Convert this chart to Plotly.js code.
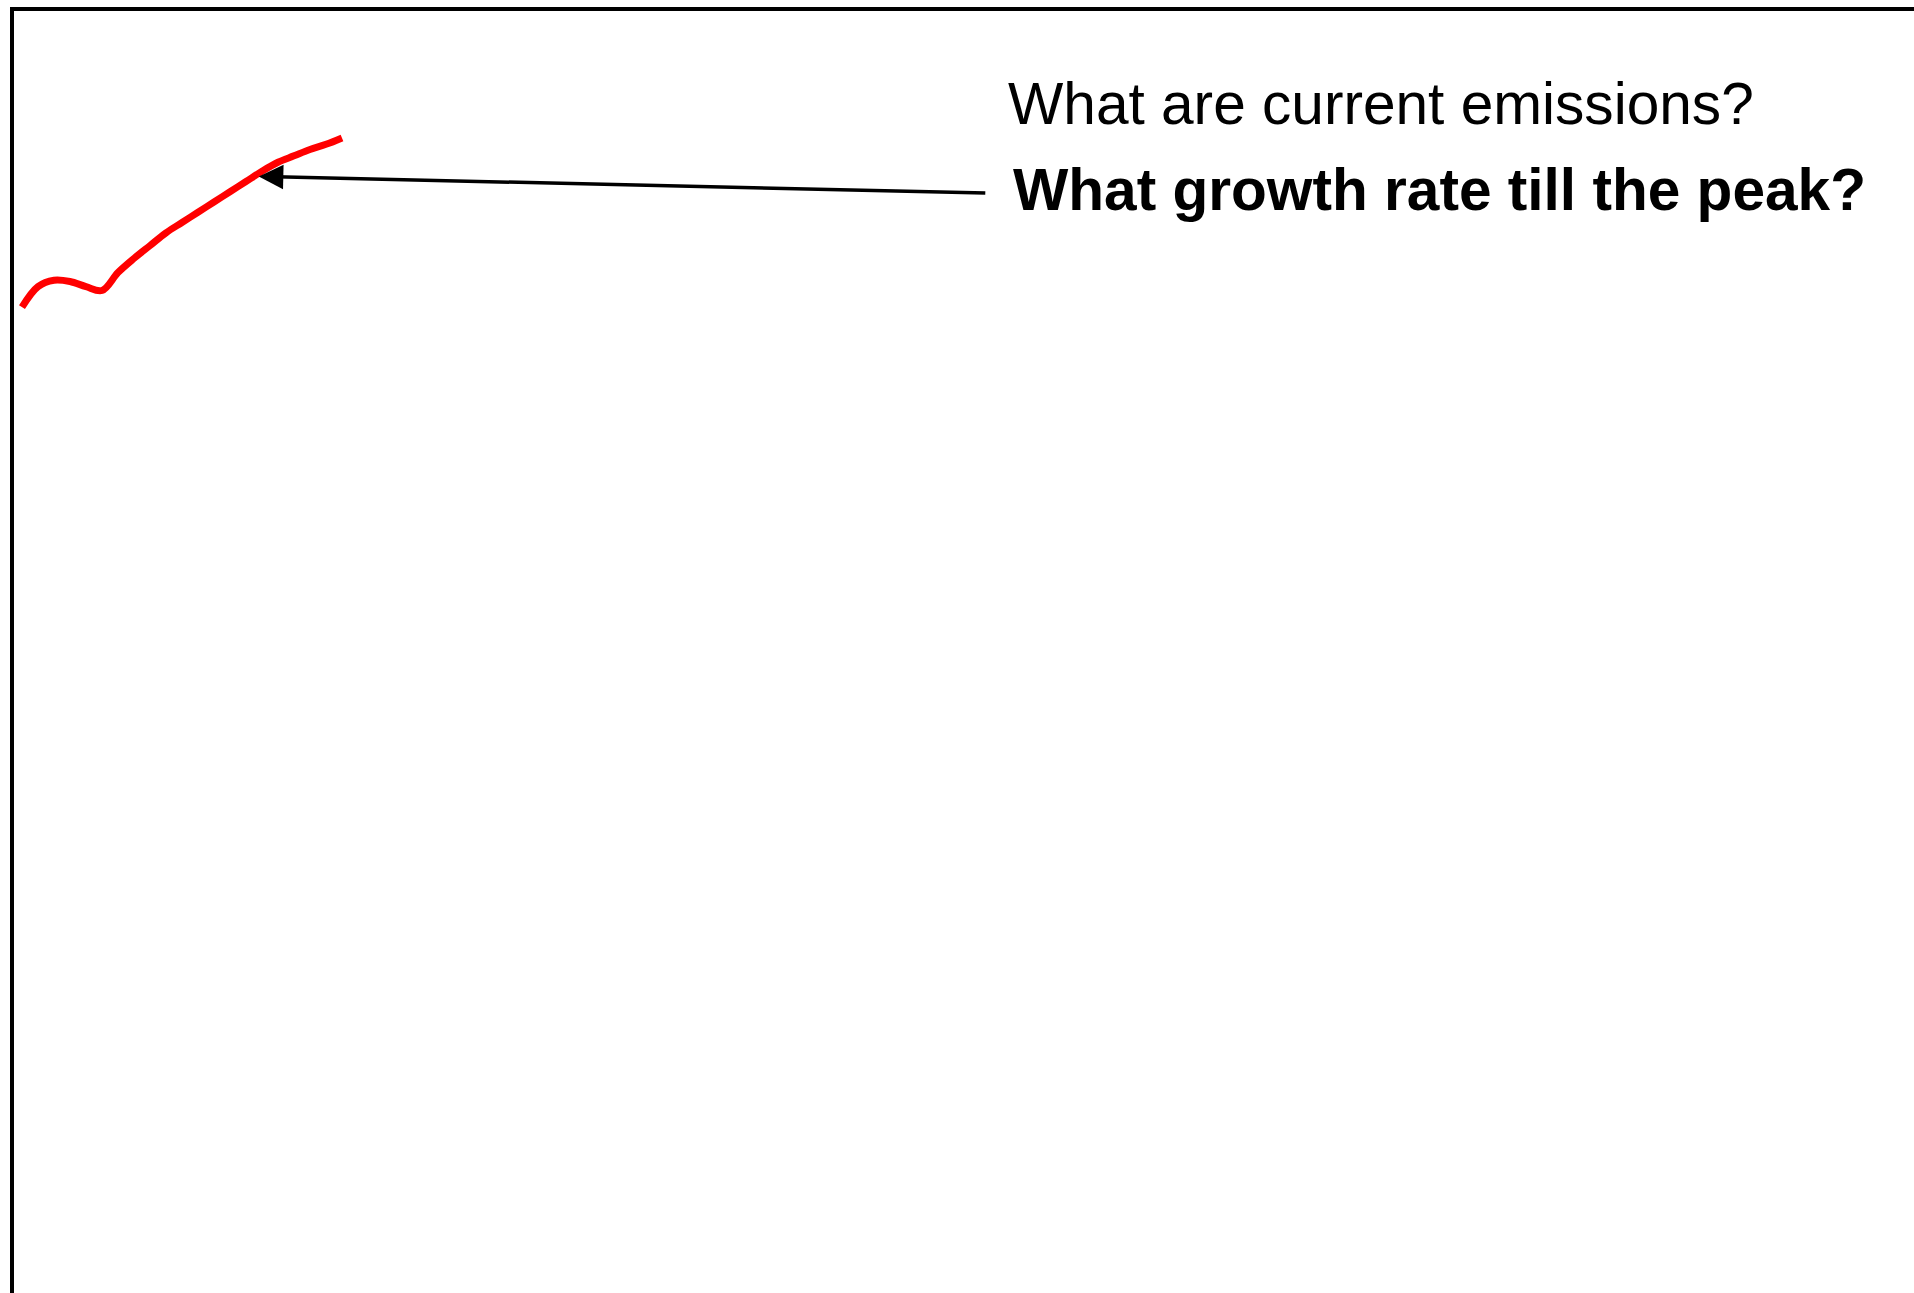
<!DOCTYPE html>
<html>
<head>
<meta charset="utf-8">
<script src="https://cdn.plot.ly/plotly-3.0.1.min.js"></script>
<style>html,body{margin:0;padding:0;background:#fff;}#chart{width:1914px;height:1293px;}</style>
</head>
<body>
<div id="chart"></div>
<script>
// Historical emissions sketch (indexed values)
const years = [1990,1991,1992,1993,1994,1995,1996,1997,1998,1999,2000,2001,2002,2003,2004,2005,2006,2007,2008,2009,2010];
const emissions = [7.69,7.85,7.90,7.89,7.85,7.82,7.96,8.07,8.17,8.27,8.35,8.43,8.51,8.59,8.67,8.75,8.82,8.87,8.92,8.96,9.01];
const xRange = [1989.5, 2108.25];
const yRange = [0, 10];
const question1 = "What are current emissions?";
const question2 = "What growth rate till the peak?";
const arrowHead = {year: 2004.8, value: 8.71};
const arrowTail = {year: 2050.3, value: 8.58};

const trace = {
  x: years, y: emissions, type: 'scatter', mode: 'lines',
  line: {color: '#ff0000', width: 7, shape: 'spline', smoothing: 1.0},
  hoverinfo: 'skip'
};

const layout = {
  width: 1914, height: 1293,
  margin: {l: 14, r: 0, t: 11, b: 0, pad: 0},
  paper_bgcolor: '#ffffff', plot_bgcolor: '#ffffff',
  showlegend: false,
  xaxis: {range: xRange, side: 'top', showline: true, linecolor: '#000', linewidth: 4.5,
          showgrid: false, zeroline: false, showticklabels: false, ticks: ''},
  yaxis: {range: yRange, showline: true, linecolor: '#000', linewidth: 4.5,
          showgrid: false, zeroline: false, showticklabels: false, ticks: ''},
  annotations: [
    {x: arrowHead.year, y: arrowHead.value, xref: 'x', yref: 'y',
     ax: arrowTail.year, ay: arrowTail.value, axref: 'x', ayref: 'y',
     text: '', showarrow: true, arrowhead: 2, arrowsize: 1.4, arrowwidth: 3.5,
     arrowcolor: '#000', standoff: 0},
    {x: 0.5222, y: 0.9282, xref: 'paper', yref: 'paper', xanchor: 'left', yanchor: 'middle',
     text: question1, showarrow: false,
     font: {family: 'Liberation Sans, Arial, sans-serif', size: 58.6, color: '#000'}},
    {x: 0.5247, y: 0.8604, xref: 'paper', yref: 'paper', xanchor: 'left', yanchor: 'middle',
     text: '<b>' + question2 + '</b>', showarrow: false,
     font: {family: 'Liberation Sans, Arial, sans-serif', size: 58.6, color: '#000'}}
  ]
};

Plotly.newPlot('chart', [trace], layout, {displayModeBar: false, staticPlot: true});
</script>
</body>
</html>
